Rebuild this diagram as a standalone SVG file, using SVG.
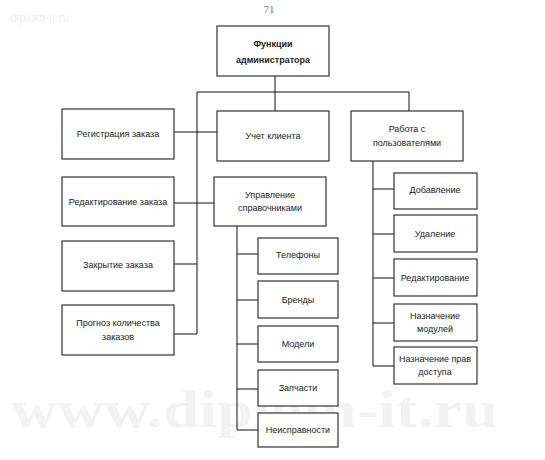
<svg xmlns="http://www.w3.org/2000/svg" width="545" height="460" viewBox="0 0 545 460">
<style>
.b{fill:#fff;stroke:#333;stroke-width:1.2}
.t{font-family:"Liberation Sans",Arial,sans-serif;font-size:9px;fill:#222;text-anchor:middle;dominant-baseline:central}
.c{fill:none;stroke:#111;stroke-width:1}
.wm{font-family:"Liberation Serif",serif;font-weight:bold;fill:#f2f2f2}
</style>
<rect width="545" height="460" fill="#fff"/>
<text x="10" y="22" font-family="Liberation Sans,sans-serif" font-size="12" fill="#eeeeee">dipiom-it.ru</text>
<text class="wm" x="11" y="427" font-size="52" textLength="487" lengthAdjust="spacingAndGlyphs">www.diplom-it.ru</text>
<text x="269" y="13" font-family="Liberation Serif,serif" font-size="11" fill="#777" text-anchor="middle">71</text>
<g id="connectors" class="c">
<path d="M275 76V111M197 92H409V111M197 92V334M174 132H217M174 203H214M174 264H197M174 334H197"/>
<path d="M237 226V430M237 254H258M237 300H258M237 344H258M237 389H258M237 430H258"/>
<path d="M373 161V366M373 189H394M373 234H394M373 278H394M373 323H394M373 366H394"/>
</g>
<g id="root"><rect class="b" x="217" y="26" width="112" height="50"/><text class="t" x="273" y="44" font-weight="bold" font-size="10.5">Функции</text><text class="t" x="273" y="60" font-weight="bold" font-size="10.5">администратора</text></g>
<g id="reg"><rect class="b" x="62" y="109" width="112" height="50"/><text class="t" x="118" y="134">Регистрация заказа</text></g>
<g id="edit"><rect class="b" x="62" y="177" width="112" height="49"/><text class="t" x="118" y="202">Редактирование заказа</text></g>
<g id="close"><rect class="b" x="62" y="241" width="112" height="50"/><text class="t" x="118" y="265">Закрытие заказа</text></g>
<g id="forecast"><rect class="b" x="62" y="305" width="112" height="50"/><text class="t" x="118" y="323">Прогноз количества</text><text class="t" x="118" y="337">заказов</text></g>
<g id="client"><rect class="b" x="217" y="111" width="112" height="50"/><text class="t" x="273" y="136">Учет клиента</text></g>
<g id="refs"><rect class="b" x="214" y="177" width="112" height="49"/><text class="t" x="270" y="195">Управление</text><text class="t" x="270" y="208">справочниками</text></g>
<g id="phones"><rect class="b" x="258" y="238" width="80" height="36"/><text class="t" x="298" y="255">Телефоны</text></g>
<g id="brands"><rect class="b" x="258" y="281" width="80" height="37"/><text class="t" x="298" y="300">Бренды</text></g>
<g id="models"><rect class="b" x="258" y="326" width="80" height="36"/><text class="t" x="298" y="344">Модели</text></g>
<g id="parts"><rect class="b" x="258" y="370" width="80" height="36"/><text class="t" x="298" y="388">Запчасти</text></g>
<g id="faults"><rect class="b" x="258" y="413" width="80" height="34"/><text class="t" x="298" y="430">Неисправности</text></g>
<g id="users"><rect class="b" x="351" y="111" width="112" height="50"/><text class="t" x="407" y="129">Работа с</text><text class="t" x="407" y="143">пользователями</text></g>
<g id="add"><rect class="b" x="394" y="173" width="83" height="36"/><text class="t" x="435" y="190">Добавление</text></g>
<g id="del"><rect class="b" x="394" y="215" width="83" height="37"/><text class="t" x="435" y="234">Удаление</text></g>
<g id="uedit"><rect class="b" x="394" y="259" width="83" height="37"/><text class="t" x="435" y="278">Редактирование</text></g>
<g id="mods"><rect class="b" x="394" y="304" width="83" height="37"/><text class="t" x="435" y="316">Назначение</text><text class="t" x="435" y="329">модулей</text></g>
<g id="rights"><rect class="b" x="394" y="347" width="83" height="37"/><text class="t" x="435" y="359">Назначение прав</text><text class="t" x="435" y="372">доступа</text></g>
</svg>
